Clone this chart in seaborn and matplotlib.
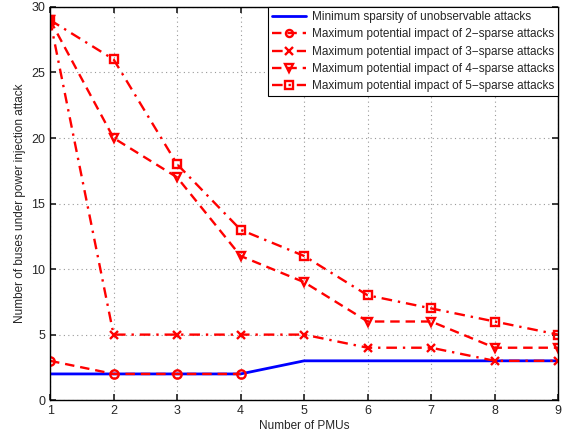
import matplotlib
matplotlib.use("Agg")
import matplotlib.pyplot as plt
import seaborn as sns

sns.set_theme(style="ticks")
plt.rcParams["font.family"] = ["Liberation Sans", "DejaVu Sans"]

pmus = [1, 2, 3, 4, 5, 6, 7, 8, 9]
min_sparsity = [2, 2, 2, 2, 3, 3, 3, 3, 3]
pmus_2sparse = [1, 2, 3, 4]
impact_2sparse = [3, 2, 2, 2]
impact_3sparse = [29, 5, 5, 5, 5, 4, 4, 3, 3]
impact_4sparse = [29, 20, 17, 11, 9, 6, 6, 4, 4]
impact_5sparse = [29, 26, 18, 13, 11, 8, 7, 6, 5]

fig = plt.figure(figsize=(5.69, 4.34), dpi=100)
ax = fig.add_axes([0.088, 0.078, 0.893, 0.906])

red = "#ff0000"
dashed = (0, (4, 2.5))
dashdot = (0, (4.5, 2.5, 1, 2.5))

sns.lineplot(x=pmus, y=min_sparsity, ax=ax, color="#0000ff", linewidth=2,
             label="Minimum sparsity of unobservable attacks")
series = [
    (pmus_2sparse, impact_2sparse, "o", dashed, "Maximum potential impact of 2\u2212sparse attacks"),
    (pmus, impact_3sparse, "x", dashdot, "Maximum potential impact of 3\u2212sparse attacks"),
    (pmus, impact_4sparse, "v", dashed, "Maximum potential impact of 4\u2212sparse attacks"),
    (pmus, impact_5sparse, "s", dashdot, "Maximum potential impact of 5\u2212sparse attacks"),
]
for xs, ys, mk, ls, lab in series:
    sns.lineplot(x=xs, y=ys, ax=ax, color=red, linewidth=1.7, linestyle=ls,
                 marker=mk, markersize=6, markerfacecolor="none",
                 markeredgecolor=red, markeredgewidth=1.7, label=lab)

ax.set_xlim(1, 9)
ax.set_ylim(0, 30)
ax.set_xticks(range(1, 10))
ax.set_yticks(range(0, 31, 5))
ax.tick_params(direction="in", top=True, right=True, labelsize=9, length=4)
ax.grid(True, linestyle=(0, (1, 3)), color="#999999", linewidth=0.8)
for s in ax.spines.values():
    s.set_visible(True)
    s.set_linewidth(1.0)
    s.set_color("black")
ax.set_xlabel("Number of PMUs", fontsize=8.5, labelpad=2)
ax.set_ylabel("Number of buses under power injection attack", fontsize=8.5, labelpad=4)

leg = ax.legend(loc="upper right", fontsize=8.5, frameon=True, fancybox=False,
                edgecolor="black", framealpha=1, handlelength=2.9,
                borderaxespad=0.0, labelspacing=0.45, borderpad=0.35,
                handletextpad=0.5, markerscale=0.85)
leg.get_frame().set_linewidth(0.8)

fig.savefig("out.png", dpi=100)
